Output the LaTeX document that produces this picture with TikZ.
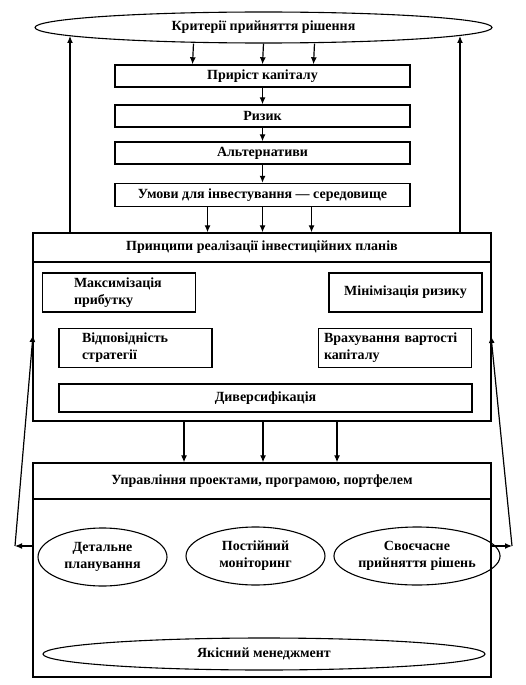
\documentclass[tikz,border=0pt]{standalone}
\usepackage{fontspec}
\setmainfont{Liberation Serif}
\usetikzlibrary{shapes.geometric,arrows.meta}

\begin{document}
\begin{tikzpicture}[x=1pt, y=-1pt,
    every node/.style={font=\fontsize{14}{17}\selectfont\bfseries},
    box/.style={draw, line width=1.4pt, minimum width=295, minimum height=22, inner sep=0},
    frame/.style={draw, line width=1.4pt, minimum width=458, inner sep=0},
    sub/.style={draw, line width=1.4pt, minimum width=153, minimum height=39, inner sep=0, align=left},
    oval/.style={draw, ellipse, line width=1.1pt, inner sep=0, align=center},
    arr/.style={line width=1.2pt, -{Latex[length=7pt,width=6pt]}}]
        \useasboundingbox (0,0) rectangle (526,685);
        % top part
        \node[oval, minimum width=457, minimum height=31] (crit) at (263.5,27.5) {Критерії прийняття рішення};
        \node[box] (grow) at (262.5,76) {Приріст капіталу};
        \node[box] (risk) at (262.5,116) {Ризик};
        \node[box] (alt) at (262.5,153) {Альтернативи};
        \node[box, minimum height=23] (env) at (262.5,195) {Умови для інвестування~--- середовище};
        \foreach \dx in {-70,0,51}{
            \draw[arr] ([xshift=\dx pt]crit.south) -- ([xshift=\dx pt]grow.north);
        }
        \draw[arr] (grow) -- (risk);
        \draw[arr] (risk) -- (alt);
        \draw[arr] (alt) -- (env);
        % principles
        \node[frame, minimum height=188] (princbox) at (262,327) {};
        \node[frame, minimum height=29] (princ) at (262,247.5) {Принципи реалізації інвестиційних планів};
        \foreach \dx in {-55,0,49}{
            \draw[arr] ([xshift=\dx pt]env.south) -- ([xshift=\dx pt]env.south |- princbox.north);
        }
        \node[sub, text width=90] (maxp) at (119,292.5) {Максимізація\\прибутку};
        \node[sub, align=center] (minr) at (405.5,292.5) {Мінімізація ризику};
        \node[sub, text width=107] (vidp) at (135.5,348) {Відповідність\\стратегії};
        \node[sub, text width=142] (vrah) at (395,348) {Врахування вартості\\капіталу};
        \node[sub, minimum width=413, minimum height=28] (divers) at (265.5,398) {Диверсифікація};
        % management
        \node[frame, minimum height=214] (uprbox) at (262,570) {};
        \node[frame, minimum height=36] (upr) at (262,481) {Управління проектами, програмою, портфелем};
        \foreach \dx in {-78,1,75}{
            \draw[arr] ([xshift=\dx pt]princbox.south) -- ([xshift=\dx pt]princbox.south |- uprbox.north);
        }
        \node[oval, minimum width=129, minimum height=58] (det) at (102.5,557) {Детальне\\планування};
        \node[oval, minimum width=139, minimum height=58] (post) at (255.5,556) {Постійний\\моніторинг};
        \node[oval, minimum width=140, minimum height=58] (svo) at (417,556) {Своєчасне\\прийняття рішень};
        \node[oval, minimum width=442, minimum height=32] (yak) at (264,654) {Якісний менеджмент};
        % feedback
        \coordinate (tipL) at (70,36);
        \coordinate (tipR) at (460,36);
        \draw[arr] (tipL |- princbox.north) -- (tipL);
        \draw[arr] (tipR |- princbox.north) -- (tipR);
        \coordinate (sideL) at (15,546);
        \coordinate (sideR) at (512,546);
        \coordinate (backL) at (33,335);
        \coordinate (backR) at (491,336);
        \draw[arr] (sideL -| uprbox.west) -- (sideL);
        \draw[arr] (sideL) -- (backL);
        \draw[arr] (sideR -| uprbox.east) -- (sideR);
        \draw[arr] (sideR) -- (backR);
\end{tikzpicture}
\end{document}
